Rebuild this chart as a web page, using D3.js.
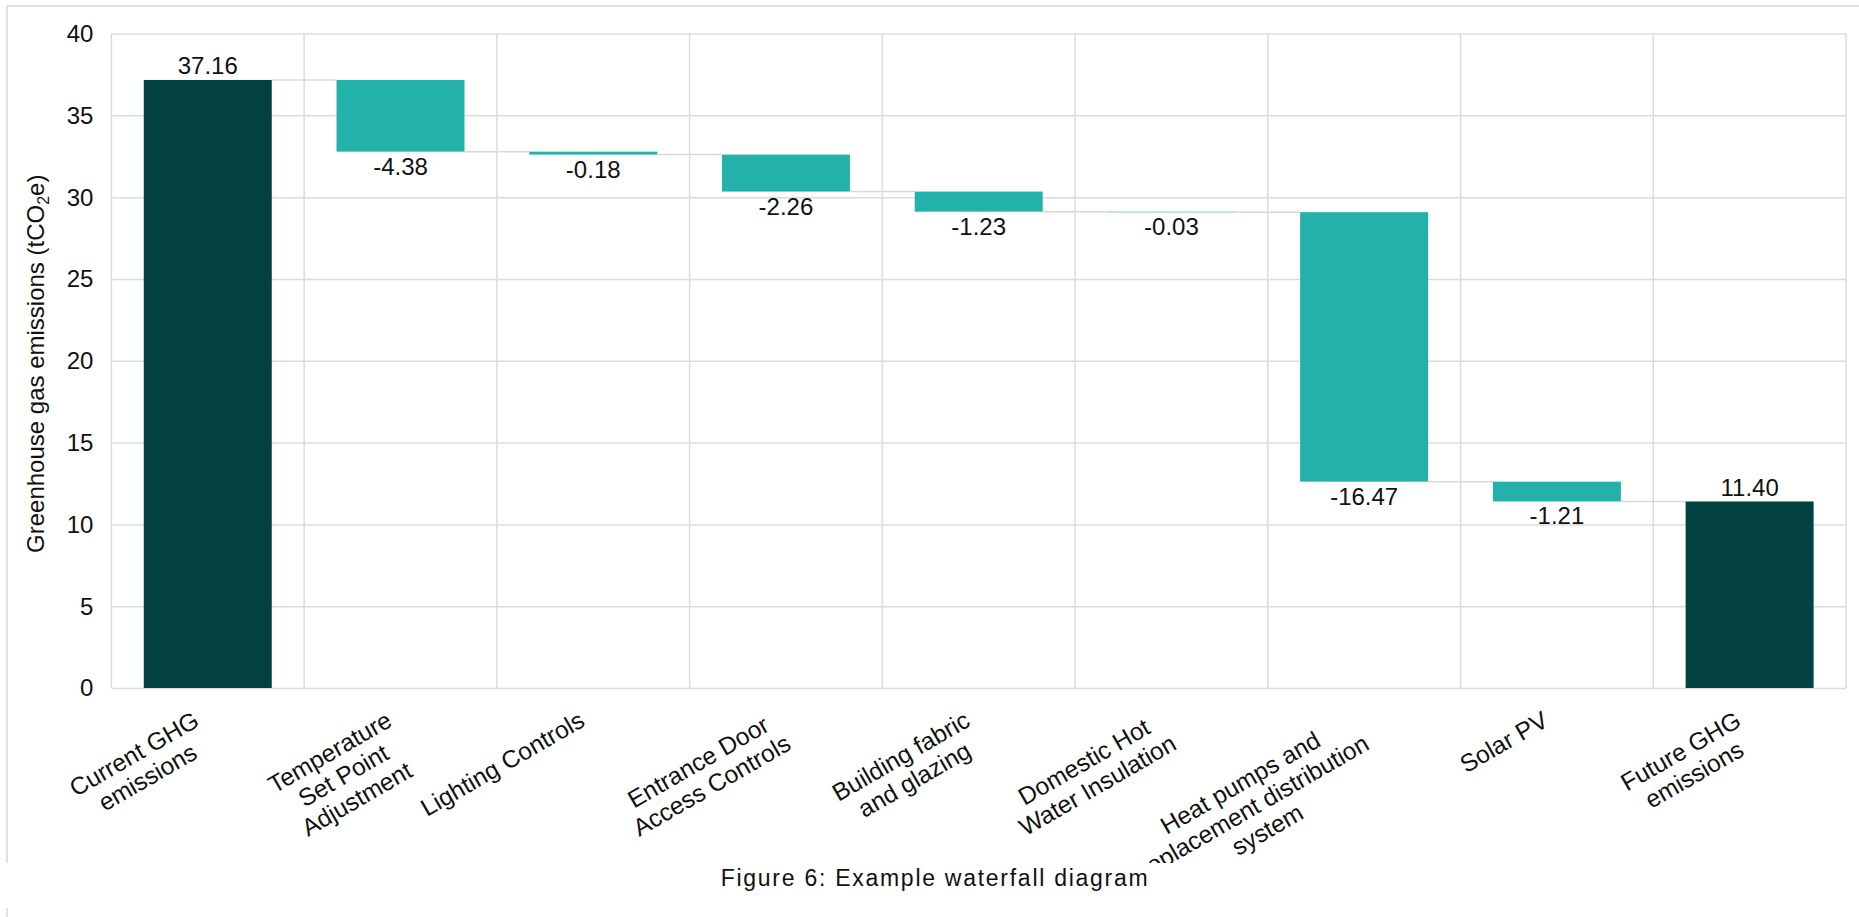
<!DOCTYPE html>
<html>
<head>
<meta charset="utf-8">
<script src="https://cdn.jsdelivr.net/npm/d3@7"></script>
<style>
  body { margin: 0; background: #fff; }
  svg { display: block; font-family: 'Liberation Sans', Arial, sans-serif; }
  .grid line { stroke: #dcdcdc; stroke-width: 1.5px; }
  .grid .domain { display: none; }
  .tick-label { font-size: 24px; fill: #111; }
  .cat-label { font-size: 24.5px; fill: #111; }
</style>
</head>
<body>
<div id="chart"></div>
<script>
'use strict';

// chart data
var categories = [
  [ 'Current GHG', 'emissions' ],
  [ 'Temperature', 'Set Point', 'Adjustment' ],
  [ 'Lighting Controls' ],
  [ 'Entrance Door', 'Access Controls' ],
  [ 'Building fabric', 'and glazing' ],
  [ 'Domestic Hot', 'Water Insulation' ],
  [ 'Heat pumps and', 'replacement distribution', 'system' ],
  [ 'Solar PV' ],
  [ 'Future GHG', 'emissions' ]
];
var values = [ 37.16, -4.38, -0.18, -2.26, -1.23, -0.03, -16.47, -1.21, 11.40 ];
var barKinds = [ 'total', 'step', 'step', 'step', 'step', 'step', 'step', 'step', 'total' ];
var yTicks = [ 0, 5, 10, 15, 20, 25, 30, 35, 40 ];
var yAxisLabel = 'Greenhouse gas emissions (tCO';
var caption = 'Figure 6: Example waterfall diagram';

var colors = { total: '#034241', step: '#24b1aa' };

var W = 1859, H = 917;
var margin = { top: 33.5, left: 111.4, right: 13, bottom: 229 };
var plotW = W - margin.left - margin.right,
    plotH = H - margin.top - margin.bottom;

// build waterfall rows
var running = 0;
var rows = values.map( function( v, i ) {
  var lo, hi;
  if ( barKinds[i] === 'total' ) {
    lo = 0; hi = v; running = v;
  } else {
    hi = running; lo = running + v; running = lo;
  }
  return { i: i, v: v, kind: barKinds[i], lo: lo, hi: hi, end: running, lines: categories[i] };
} );

var svg = d3.select( '#chart' ).append( 'svg' )
  .attr( 'width', W )
  .attr( 'height', H );

svg.append( 'clipPath' ).attr( 'id', 'frameClip' )
  .append( 'rect' ).attr( 'x', 0 ).attr( 'y', 0 ).attr( 'width', W ).attr( 'height', 863 );

// outer frame lines
svg.append( 'path' )
  .attr( 'd', 'M7,917 L7,908 M7,863 L7,6 L1859,6' )
  .attr( 'fill', 'none' )
  .attr( 'stroke', '#d9d9d9' )
  .attr( 'stroke-width', 1.5 );

var root = svg.append( 'g' ).attr( 'clip-path', 'url(#frameClip)' );
var g = root.append( 'g' )
  .attr( 'transform', 'translate(' + margin.left + ',' + margin.top + ')' );

var x = d3.scaleBand()
  .domain( rows.map( function( d ) { return d.i; } ) )
  .range( [ 0, plotW ] )
  .paddingInner( 0.336 )
  .paddingOuter( 0.168 );

var y = d3.scaleLinear()
  .domain( [ 0, 40 ] )
  .range( [ plotH, 0 ] );

// horizontal grid + y tick labels
g.append( 'g' )
  .attr( 'class', 'grid' )
  .call( d3.axisLeft( y ).tickValues( yTicks ).tickSize( -plotW ).tickFormat( '' ) );

g.append( 'g' ).selectAll( 'text' )
  .data( yTicks )
  .join( 'text' )
    .attr( 'class', 'tick-label' )
    .attr( 'x', -18 )
    .attr( 'y', function( d ) { return y( d ); } )
    .attr( 'dy', '0.35em' )
    .attr( 'text-anchor', 'end' )
    .text( function( d ) { return d; } );

// vertical grid at category boundaries
var step = x.step();
var bounds = d3.range( categories.length + 1 ).map( function( k ) { return k * step; } );
g.append( 'g' ).attr( 'class', 'grid' ).selectAll( 'line' )
  .data( bounds )
  .join( 'line' )
    .attr( 'x1', function( d ) { return d; } )
    .attr( 'x2', function( d ) { return d; } )
    .attr( 'y1', 0 )
    .attr( 'y2', plotH );

// connectors between bars
g.append( 'g' ).selectAll( 'line' )
  .data( rows.slice( 0, -1 ) )
  .join( 'line' )
    .attr( 'x1', function( d ) { return x( d.i ) + x.bandwidth(); } )
    .attr( 'x2', function( d ) { return x( d.i + 1 ); } )
    .attr( 'y1', function( d ) { return y( d.end ); } )
    .attr( 'y2', function( d ) { return y( d.end ); } )
    .attr( 'stroke', '#d9d9d9' )
    .attr( 'stroke-width', 1.5 );

// bars
g.append( 'g' ).selectAll( 'rect' )
  .data( rows )
  .join( 'rect' )
    .attr( 'x', function( d ) { return x( d.i ); } )
    .attr( 'width', x.bandwidth() )
    .attr( 'y', function( d ) { return y( d.hi ); } )
    .attr( 'height', function( d ) { return Math.max( 0.6, y( d.lo ) - y( d.hi ) ); } )
    .attr( 'fill', function( d ) { return colors[d.kind]; } );

// value labels
g.append( 'g' ).selectAll( 'text' )
  .data( rows )
  .join( 'text' )
    .attr( 'class', 'tick-label' )
    .attr( 'text-anchor', 'middle' )
    .attr( 'x', function( d ) { return x( d.i ) + x.bandwidth() / 2; } )
    .attr( 'y', function( d ) {
      return d.kind === 'total' ? y( d.hi ) - 5.5 : y( d.lo ) + 23;
    } )
    .text( function( d ) { return d.v.toFixed( 2 ); } );

// rotated category labels: top-right corner of the text block hangs just under the band centre
var lineH = 27;
var catG = g.append( 'g' ).selectAll( 'g' )
  .data( rows )
  .join( 'g' )
    .attr( 'transform', function( d ) {
      return 'translate(' + ( x( d.i ) + x.bandwidth() / 2 - 18 ) + ',' + ( plotH + 18 ) + ') rotate(-30)';
    } );

catG.each( function( d ) {
  var sel = d3.select( this );
  var texts = sel.selectAll( 'text' )
    .data( d.lines )
    .join( 'text' )
      .attr( 'class', 'cat-label' )
      .attr( 'text-anchor', 'middle' )
      .text( function( t ) { return t; } );
  var maxW = 0;
  texts.each( function() { maxW = Math.max( maxW, this.getComputedTextLength() ); } );
  texts
    .attr( 'x', -maxW / 2 )
    .attr( 'y', function( t, k ) { return k * lineH + lineH / 2; } )
    .attr( 'dy', '0.35em' );
} );

// y axis title with subscript
var yTitle = svg.append( 'text' )
  .attr( 'transform', 'translate(44,' + ( margin.top + plotH / 2 + 3 ) + ') rotate(-90)' )
  .attr( 'text-anchor', 'middle' )
  .style( 'font-size', '24px' )
  .attr( 'fill', '#111' );
yTitle.append( 'tspan' ).text( yAxisLabel );
yTitle.append( 'tspan' ).attr( 'dy', 5 ).style( 'font-size', '16px' ).text( '2' );
yTitle.append( 'tspan' ).attr( 'dy', -5 ).text( 'e)' );

// caption
svg.append( 'text' )
  .attr( 'x', 720.7 )
  .attr( 'y', 886 )
  .attr( 'textLength', 427 )
  .attr( 'lengthAdjust', 'spacing' )
  .style( 'font-size', '23px' )
  .attr( 'fill', '#111' )
  .text( caption );
</script>
</body>
</html>
